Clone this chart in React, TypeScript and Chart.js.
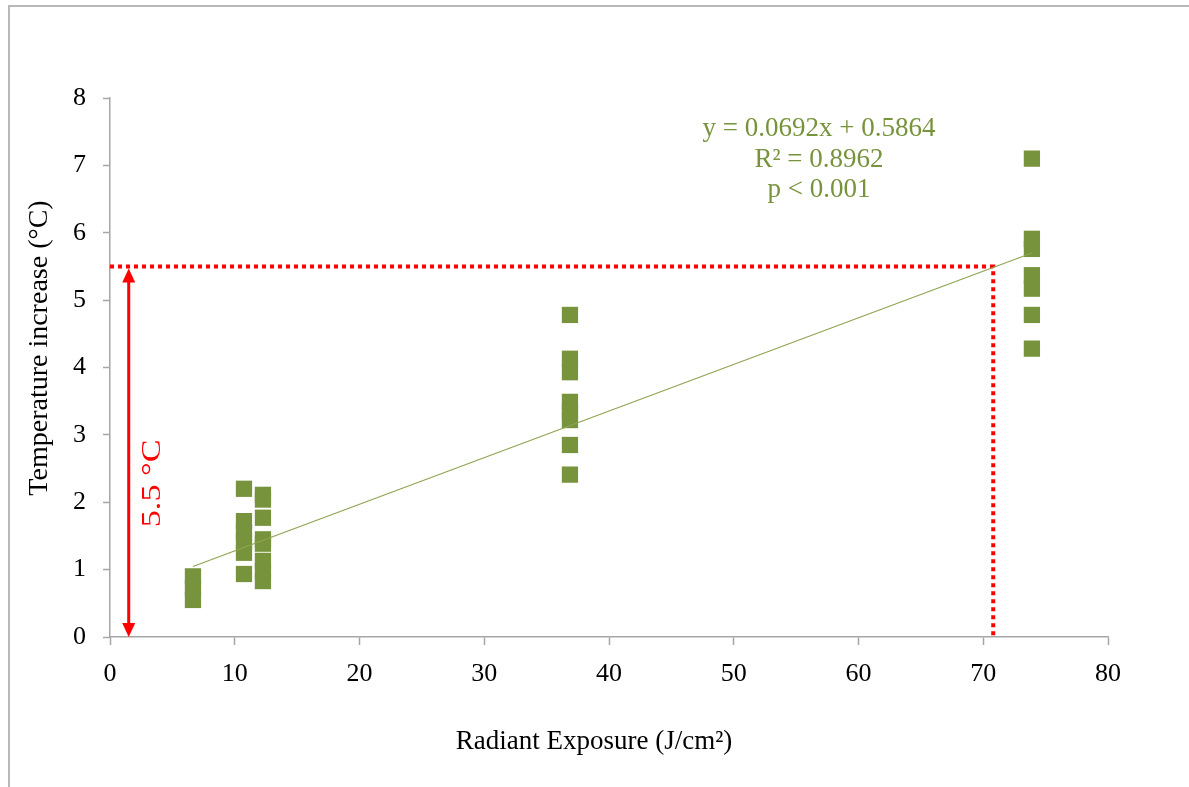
import { useEffect, useRef } from "react";
import { Chart, registerables } from "chart.js";

Chart.register(...registerables);

// Radiant exposure groups (J/cm²) and the temperature increases measured at each (°C)
const exposureLevels = [6.65, 10.74, 12.26, 36.87, 73.9];
const riseAt6_65 = [0.9, 0.73, 0.55];
const riseAt10_74 = [2.2, 1.72, 1.55, 1.42, 1.25, 0.935];
const riseAt12_26 = [2.11, 2.04, 1.77, 1.45, 1.385, 1.13, 0.98, 0.83];
const riseAt36_87 = [4.78, 4.13, 3.93, 3.49, 3.35, 3.22, 2.85, 2.41];
const riseAt73_9 = [7.1, 5.91, 5.76, 5.37, 5.17, 4.78, 4.28];
const riseGroups = [riseAt6_65, riseAt10_74, riseAt12_26, riseAt36_87, riseAt73_9];

// Linear fit reported on the chart
const fitSlope = 0.0692;
const fitIntercept = 0.5864;
const fitRange = [6.65, 73.9];
const fitLabels = ["y = 0.0692x + 0.5864", "R² = 0.8962", "p < 0.001"];

// Safety threshold marker
const thresholdRise = 5.5;
const thresholdExposure = 70.8;
const thresholdLabel = "5.5 °C";
const arrowExposure = 1.5;

// Axis ticks
const xTicks = [0, 10, 20, 30, 40, 50, 60, 70, 80];
const yTickStep = 0.5;

const SERIF = "'Liberation Serif', 'Times New Roman', serif";
const OLIVE = "#77933c";
const RED = "#ff0000";
const AXIS = "#a6a6a6";

const measuredPoints = exposureLevels.flatMap((x, i) =>
  riseGroups[i].map((y) => ({ x, y }))
);
const fitPoints = fitRange.map((x) => ({ x, y: fitSlope * x + fitIntercept }));

const annotations = {
  id: "annotations",
  beforeDraw(chart: any) {
    const ctx = chart.ctx;
    ctx.save();
    ctx.strokeStyle = "#b8b8b8";
    ctx.lineWidth = 2;
    ctx.beginPath();
    ctx.moveTo(9, 5);
    ctx.lineTo(9, chart.height);
    ctx.moveTo(8, 6);
    ctx.lineTo(chart.width, 6);
    ctx.stroke();
    ctx.restore();
  },
  afterDraw(chart: any) {
    const ctx = chart.ctx;
    const xs = chart.scales.x;
    const ys = chart.scales.y;
    ctx.save();

    // double-headed arrow spanning 0 .. threshold
    const ax = xs.getPixelForValue(arrowExposure);
    const yTop = ys.getPixelForValue(thresholdRise) + 2;
    const yBot = ys.getPixelForValue(0);
    const head = 14;
    const half = 6.5;
    ctx.strokeStyle = RED;
    ctx.fillStyle = RED;
    ctx.lineWidth = 3;
    ctx.beginPath();
    ctx.moveTo(ax, yTop + head - 1);
    ctx.lineTo(ax, yBot - head + 1);
    ctx.stroke();
    ctx.beginPath();
    ctx.moveTo(ax, yTop);
    ctx.lineTo(ax - half, yTop + head);
    ctx.lineTo(ax + half, yTop + head);
    ctx.closePath();
    ctx.fill();
    ctx.beginPath();
    ctx.moveTo(ax, yBot);
    ctx.lineTo(ax - half, yBot - head);
    ctx.lineTo(ax + half, yBot - head);
    ctx.closePath();
    ctx.fill();

    // rotated threshold label
    ctx.translate(ax + 24, ys.getPixelForValue(2.28));
    ctx.rotate(-Math.PI / 2);
    ctx.scale(1.22, 1);
    ctx.font = `28px ${SERIF}`;
    ctx.textAlign = "center";
    ctx.textBaseline = "middle";
    ctx.fillText(thresholdLabel, 0, 0);
    ctx.setTransform(1, 0, 0, 1, 0, 0);

    // regression summary
    ctx.fillStyle = OLIVE;
    ctx.font = `27px ${SERIF}`;
    ctx.textAlign = "center";
    ctx.textBaseline = "middle";
    fitLabels.forEach((t, i) => ctx.fillText(t, 819, 129 + i * 30.5));

    // axis titles
    ctx.fillStyle = "#000";
    ctx.font = `27px ${SERIF}`;
    ctx.fillText("Radiant Exposure (J/cm²)", 594, 742);
    ctx.translate(40, 348);
    ctx.rotate(-Math.PI / 2);
    ctx.font = `28px ${SERIF}`;
    ctx.fillText("Temperature increase (°C)", 0, 0);
    ctx.restore();
  },
};

export default function App() {
  const ref = useRef<HTMLCanvasElement>(null);

  useEffect(() => {
    if (!ref.current) return;
    const chart = new Chart(ref.current, {
      type: "scatter",
      data: {
        datasets: [
          {
            label: "Fit",
            type: "line",
            data: fitPoints,
            borderColor: "#8ea552",
            borderWidth: 1.2,
            pointRadius: 0,
            fill: false,
            order: 0,
          },
          {
            label: "Threshold level",
            type: "line",
            data: [
              { x: 0, y: thresholdRise },
              { x: thresholdExposure, y: thresholdRise },
              { x: thresholdExposure, y: 0 },
            ],
            borderColor: RED,
            borderWidth: 4,
            borderDash: [4, 4],
            borderCapStyle: "butt",
            pointRadius: 0,
            fill: false,
            order: 1,
          },
          {
            label: "Measured",
            data: measuredPoints,
            pointStyle: "rect",
            pointRadius: 11.5,
            pointBackgroundColor: OLIVE,
            pointBorderWidth: 0,
            pointBorderColor: OLIVE,
            order: 2,
          },
        ],
      },
      options: {
        animation: false,
        responsive: false,
        events: [],
        layout: { padding: { left: 0, top: 98, right: 81, bottom: 0 } },
        plugins: { legend: { display: false }, tooltip: { enabled: false } },
        scales: {
          x: {
            type: "linear",
            min: 0,
            max: 80,
            afterFit: (s: any) => {
              s.height = 150;
            },
            afterBuildTicks: (s: any) => {
              s.ticks = xTicks.map((v) => ({ value: v }));
            },
            ticks: {
              color: "#000",
              font: { family: SERIF, size: 26 },
              padding: 14,
              maxRotation: 0,
            },
            grid: {
              drawOnChartArea: false,
              drawTicks: true,
              tickLength: 8,
              color: AXIS,
              tickWidth: 1.5,
            },
            border: { display: true, color: AXIS, width: 1.5 },
          },
          y: {
            type: "linear",
            min: 0,
            max: 8,
            afterFit: (s: any) => {
              s.width = 110;
            },
            ticks: {
              stepSize: yTickStep,
              color: "#000",
              font: { family: SERIF, size: 26 },
              padding: 17,
              callback: (v: any) => (Number(v) % 1 === 0 ? String(v) : ""),
            },
            grid: {
              drawOnChartArea: false,
              drawTicks: true,
              tickLength: 7,
              color: AXIS,
              tickWidth: 1.5,
            },
            border: { display: true, color: AXIS, width: 1.5 },
          },
        },
      },
      plugins: [annotations],
    });
    return () => chart.destroy();
  }, []);

  return (
    <canvas
      ref={ref}
      width={1189}
      height={787}
      style={{ position: "absolute", left: 0, top: 0, width: 1189, height: 787 }}
    />
  );
}
